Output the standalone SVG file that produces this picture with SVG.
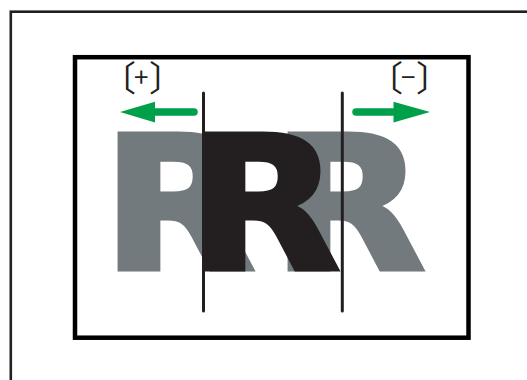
<svg xmlns="http://www.w3.org/2000/svg" width="527" height="380" viewBox="0 0 527 380">
<style>
.frame{fill:none;stroke:#231f20;stroke-width:2.6}
.inner{fill:#fff;stroke:#000;stroke-width:4.5}
.r{font-family:"DejaVu Sans",sans-serif;font-weight:bold;font-size:186px;stroke-width:5;stroke-linejoin:miter}
.gray{fill:#737a7d;stroke:#737a7d}
.black{fill:#231f20;stroke:#231f20}
.vline{stroke:#231f20;stroke-width:3;stroke-linecap:round}
.arrow{fill:#00a04a}
.shaft{stroke:#00a04a;stroke-width:7.5;stroke-linecap:round}
.lbl{font-family:"Noto Sans CJK JP","Noto Sans",sans-serif;font-size:35px;fill:#231f20}
.pm{font-size:26px}
</style>
<rect width="527" height="380" fill="#fff"/>
<rect class="frame" x="10.8" y="11.7" width="600" height="500"/>
<g id="panel">
<rect class="inner" x="75" y="57.2" width="393.5" height="280.5"/>
</g>
<g id="letters">
<text class="r gray" transform="translate(119,269.2) scale(1.07,1)" x="-16">R</text>
<text class="r gray" transform="translate(289,269.2) scale(1.07,1)" x="-16">R</text>
<text class="r black" transform="translate(204,269.2) scale(1.07,1)" x="-16">R</text>
</g>
<g id="lines">
<line class="vline" x1="203.5" y1="93" x2="203.5" y2="311"/>
<line class="vline" x1="342.3" y1="93" x2="342.3" y2="311"/>
</g>
<g id="arrow-plus">
<line class="shaft" x1="150" y1="112" x2="194" y2="112"/>
<polygon class="arrow" points="120,112 155,101.7 155,122.5"/>
<text class="lbl" y="91"><tspan x="101">〔</tspan><tspan class="pm" x="134" y="87">+</tspan><tspan x="149" y="91">〕</tspan></text>
</g>
<g id="arrow-minus">
<line class="shaft" x1="356" y1="112" x2="398" y2="112"/>
<polygon class="arrow" points="430,112 393.5,101.7 393.5,122.5"/>
<text class="lbl" y="91"><tspan x="368">〔</tspan><tspan class="pm" x="401" y="87">−</tspan><tspan x="416" y="91">〕</tspan></text>
</g>
</svg>
